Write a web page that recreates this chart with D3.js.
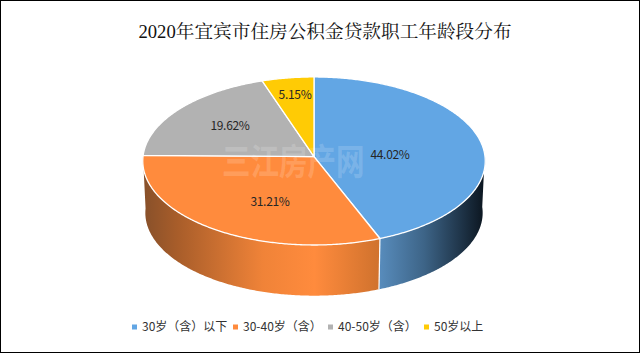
<!DOCTYPE html>
<html>
<head>
<meta charset="utf-8">
<script src="https://cdn.jsdelivr.net/npm/d3@7"></script>
<style>
  html, body { margin: 0; padding: 0; background: #fff; }
  svg { display: block; }
  text { font-family: "Noto Sans CJK SC", sans-serif; }
</style>
</head>
<body>
<div id="chart"></div>
<script>
// chart data
var title = "2020年宜宾市住房公积金贷款职工年龄段分布";
var categories = ["30岁（含）以下", "30-40岁（含）", "40-50岁（含）", "50岁以上"];
var shares = [44.02, 31.21, 19.62, 5.15];
var colors = ["#62a6e4", "#ff8b3d", "#b2b2b2", "#ffcb05"];

var width = 640, height = 353;
var svg = d3.select("#chart").append("svg")
    .attr("width", width)
    .attr("height", height);

var defs = svg.append("defs");

// side wall shading, runs left to right across the whole pie
function wallGradient(id, stops) {
    var g = defs.append("linearGradient")
        .attr("id", id)
        .attr("gradientUnits", "userSpaceOnUse")
        .attr("x1", 143).attr("x2", 486).attr("y1", 0).attr("y2", 0);
    stops.forEach(function(s) {
        g.append("stop").attr("offset", s[0]).attr("stop-color", s[1]);
    });
}
wallGradient("wall0", [[0.68, "#5a8fc0"], [0.82, "#3d6487"], [0.93, "#1e3347"], [1, "#0a131c"]]);
wallGradient("wall1", [[0, "#87502a"], [0.1, "#a85d2a"], [0.35, "#f08338"], [0.5, "#ff8b3d"], [0.68, "#d2732e"]]);

svg.append("rect")
    .attr("width", width).attr("height", height)
    .attr("fill", "#fff").attr("stroke", "#000").attr("stroke-width", 2);

// the pie is a tilted disc seen in slight perspective
var cx = 314, cy = 156.6, rx = 171, ry = 83.8, persp = 0.052, depth = 52;

function project(a, level) {
    var u = Math.sin(a), v = -Math.cos(a);
    var w = 1 - persp * v;
    var s = level ? 0.985 : 1;
    return [cx + s * rx * u / w, cy + (level ? depth : 0) + s * ry * v / w];
}

function arcPoints(a0, a1, level) {
    var n = Math.max(2, Math.ceil((a1 - a0) / 0.01));
    return d3.range(n + 1).map(function(i) {
        return project(a0 + (a1 - a0) * i / n, level);
    });
}

var pie = d3.pie().sort(null).value(function(d) { return d; });
var slices = pie(shares);
var line = d3.line().curve(d3.curveLinear);

// side walls, only the front half is visible
var wallFrom = -Math.PI / 2 + 2 * Math.PI;
slices.forEach(function(d, i) {
    if (i > 1) return;
    var a0 = i === 0 ? Math.PI / 2 - 0.02 : d.startAngle;
    var a1 = i === 0 ? d.endAngle : Math.min(d.endAngle, wallFrom);
    var top = arcPoints(a0, a1, 0);
    var bottom = arcPoints(a0, a1, 1).reverse();
    svg.append("path")
        .attr("d", line(top.concat(bottom)) + "Z")
        .attr("fill", "url(#wall" + i + ")");
});

// white seam between the blue and the orange wall
var seam = slices[0].endAngle;
svg.append("path")
    .attr("d", line([project(seam, 0), project(seam, 1)]))
    .attr("stroke", "#fff").attr("stroke-width", 1.2).attr("fill", "none");

// top face
svg.selectAll("path.slice")
    .data(slices)
    .enter()
    .append("path")
    .attr("class", "slice")
    .attr("d", function(d) {
        return line([[cx, cy]].concat(arcPoints(d.startAngle, d.endAngle, 0))) + "Z";
    })
    .attr("fill", function(d, i) { return colors[i]; })
    .attr("stroke", "#fff")
    .attr("stroke-width", 1.3)
    .attr("stroke-linejoin", "round");

// watermark, tall narrow letters
svg.append("text")
    .attr("transform", "translate(222,175) scale(1,1.28)")
    .attr("font-size", 28.5)
    .attr("font-weight", 700)
    .attr("fill", "#fff").attr("fill-opacity", 0.17)
    .text("三江房产网");

// value labels
var labelAt = [[390, 155], [270, 202], [230, 126], [295, 95]];
svg.selectAll("text.value")
    .data(shares)
    .enter()
    .append("text")
    .attr("class", "value")
    .attr("x", function(d, i) { return labelAt[i][0]; })
    .attr("y", function(d, i) { return labelAt[i][1]; })
    .attr("dy", "0.35em")
    .attr("text-anchor", "middle")
    .attr("font-size", 12)
    .attr("letter-spacing", -0.3)
    .attr("fill", "#262626")
    .text(function(d) { return d.toFixed(2) + "%"; });

// title
svg.append("text")
    .attr("x", 325).attr("y", 38)
    .attr("text-anchor", "middle")
    .attr("font-size", 18.67)
    .attr("fill", "#111")
    .style("font-family", '"Liberation Serif", "Noto Serif CJK SC", "Noto Sans CJK SC", serif')
    .text(title);

// legend
var legendX = [132, 233, 328, 424];
var legend = svg.selectAll("g.legend")
    .data(categories)
    .enter()
    .append("g")
    .attr("class", "legend")
    .attr("transform", function(d, i) { return "translate(" + legendX[i] + ",327)"; });
legend.append("rect")
    .attr("x", 0).attr("y", -2.5)
    .attr("width", 5).attr("height", 5)
    .attr("fill", function(d, i) { return colors[i]; });
legend.append("text")
    .attr("x", 10).attr("dy", "0.35em")
    .attr("font-size", 12)
    .attr("fill", "#333")
    .text(function(d) { return d; });
</script>
</body>
</html>
